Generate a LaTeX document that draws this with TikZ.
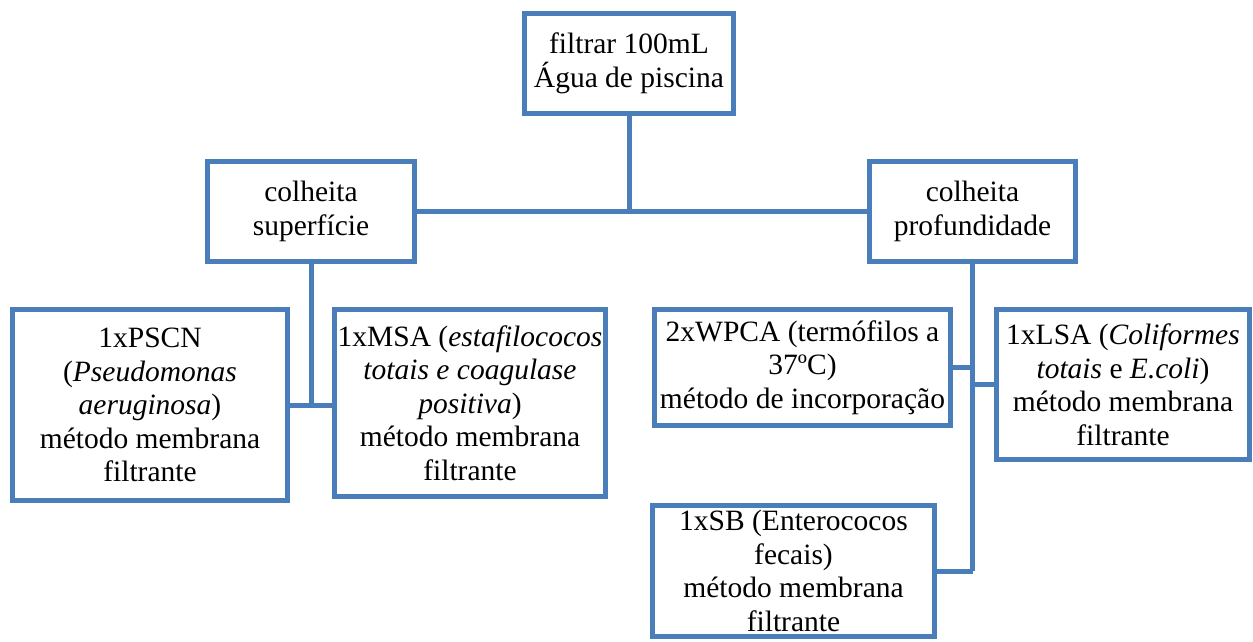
\documentclass[tikz,border=0pt]{standalone}
\usepackage{fontspec}
\setmainfont{Liberation Serif}
\definecolor{boxblue}{RGB}{74,126,187}
\tikzset{
  box/.style={draw=boxblue, line width=5pt, fill=white, rectangle, inner sep=0pt,
    align=center, text=black, font=\fontsize{29.5}{33.5}\selectfont},
  conn/.style={draw=boxblue, line width=5pt}
}
\begin{document}
\begin{tikzpicture}[x=1pt,y=-1pt]
\useasboundingbox (0,0) rectangle (1253,641);
\node[box, minimum width=209pt, minimum height=100pt] (top) at (629,63.5) {filtrar 100mL\\Água de piscina};
\node[box, minimum width=207pt, minimum height=100pt] (lmid) at (311,211.5) {colheita\\superfície};
\node[box, minimum width=206pt, minimum height=100pt] (rmid) at (972.5,211.5) {colheita\\profundidade};
\node[box, minimum width=275pt, minimum height=191pt] (pscn) at (150,405) {1xPSCN\\(\textit{Pseudomonas}\\\textit{aeruginosa})\\método membrana\\filtrante};
\node[box, minimum width=271pt, minimum height=187pt] (msa) at (470,403) {1xMSA (\textit{estafilococos}\\\textit{totais e coagulase}\\\textit{positiva})\\método membrana\\filtrante};
\node[box, minimum width=296pt, minimum height=116pt] (wpca) at (802.5,367.5) {2xWPCA (termófilos a\\37ºC)\\método de incorporação};
\node[box, minimum width=253pt, minimum height=150pt] (lsa) at (1123,384.5) {1xLSA (\textit{Coliformes}\\\textit{totais} e \textit{E.coli})\\método membrana\\filtrante};
\node[box, minimum width=282pt, minimum height=131pt] (sb) at (793.5,571) {1xSB (Enterococos\\fecais)\\método membrana\\filtrante};
% connectors
\draw[conn] (lmid.east) -- (rmid.west);
\draw[conn] (top.south) -- (top.south |- lmid.east);
\draw[conn] (lmid.south) -- (lmid.south |- pscn.east);
\draw[conn] (pscn.east) -- (pscn.east -| msa.west);
\draw[conn] (rmid.south) -- (rmid.south |- sb.east);
\draw[conn] (sb.east) -- (sb.east -| rmid.south);
\draw[conn] (wpca.east) -- (wpca.east -| rmid.south);
\draw[conn] (lsa.west) -- (lsa.west -| rmid.south);
\end{tikzpicture}
\end{document}
